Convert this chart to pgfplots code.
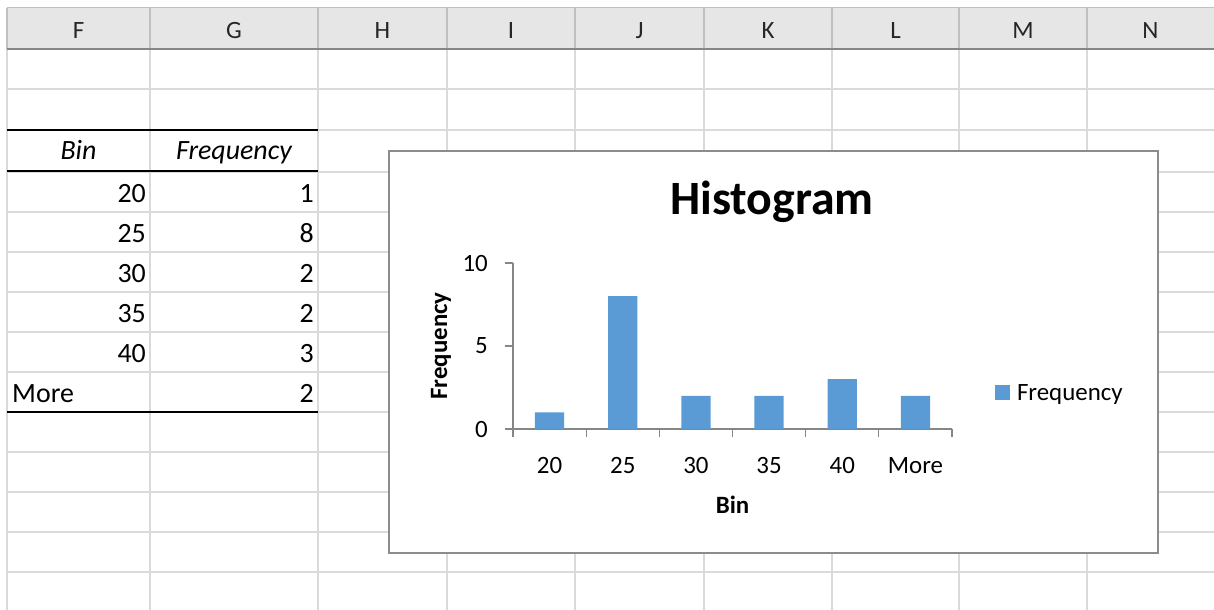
\documentclass[border=0pt]{standalone}
\usepackage{fontspec}
\setmainfont{Carlito}
\usepackage{pgfplots}
\pgfplotsset{compat=1.18}
\definecolor{barblue}{HTML}{5B9BD5}
\definecolor{gridgray}{HTML}{DADADA}
\definecolor{headgray}{HTML}{E6E6E6}
\definecolor{headline}{HTML}{C0C0C0}
\definecolor{axisgray}{HTML}{868686}
\definecolor{framegray}{HTML}{8C8C8C}

\begin{document}
\begin{tikzpicture}[x=1bp,y=1bp]
\fill[white] (0,0) rectangle (1214,-610);
\useasboundingbox (0,0) rectangle (1214,-610);

% sheet: header strip and grid
\fill[headgray] (7,-8) rectangle (1214,-49);
\draw[headline, line width=1pt] (7,-8) -- (1214,-8);
\foreach \x in {7,150,318,447,575,704,832,959,1087} {
  \draw[headline, line width=1.3pt] (\x,-8) -- (\x,-49);
  \draw[gridgray, line width=1.3pt] (\x,-49) -- (\x,-610);
}
\foreach \y in {89,130,172,212,252,292,332,372,412,452,492,532,572}
  \draw[gridgray, line width=1.3pt] (7,-\y) -- (1214,-\y);
\draw[headline!70!black, line width=1.5pt] (7,-49) -- (1214,-49);
\foreach \x/\l in {78.5/F,234/G,382.5/H,511/I,639.5/J,768/K,895.5/L,1023/M,1150.5/N}
  \node[anchor=base, inner sep=0pt, font=\fontsize{25}{30}\selectfont, text=black!85] at (\x,-39) {\l};

% the Bin / Frequency table
\draw[black, line width=3pt] (7,-130) -- (318,-130);
\draw[black, line width=1.5pt] (7,-171) -- (318,-171);
\draw[black, line width=3pt] (7,-412) -- (318,-412);
\node[anchor=base, inner sep=0pt, font=\fontsize{28}{32}\selectfont\itshape] at (78.5,-160) {Bin};
\node[anchor=base, inner sep=0pt, font=\fontsize{28}{32}\selectfont\itshape] at (234,-160) {Frequency};
\foreach \r/\b/\f in {0/20/1,1/25/8,2/30/2,3/35/2,4/40/3} {
  \node[anchor=base east, inner sep=0pt, font=\fontsize{28}{32}\selectfont] at (146,-202.5-40*\r) {\b};
  \node[anchor=base east, inner sep=0pt, font=\fontsize{28}{32}\selectfont] at (314,-202.5-40*\r) {\f};
}
\node[anchor=base west, inner sep=0pt, font=\fontsize{28}{32}\selectfont] at (12,-402.5) {More};
\node[anchor=base east, inner sep=0pt, font=\fontsize{28}{32}\selectfont] at (314,-402.5) {2};

% chart area
\filldraw[fill=white, draw=framegray, line width=1.3pt] (389,-151) rectangle (1158,-553);
\node[anchor=base, inner sep=0pt, font=\fontsize{48}{56}\selectfont\bfseries] at (772,-215) {Histogram};

\begin{axis}[
    at={(513bp,-429bp)}, anchor=south west,
    scale only axis, width=439bp, height=166bp,
    xmin=0, xmax=6, ymin=0, ymax=10,
    axis lines*=left,
    axis line style={axisgray, line width=1.3pt},
    tick style={axisgray, line width=1.3pt},
    tick align=outside,
    major tick length=8bp,
    xtick={0,...,6},
    x tick label as interval,
    xticklabels={20,25,30,35,40,More},
    ytick={0,5,10},
    /pgf/number format/assume math mode=true,
    tick label style={font=\fontsize{25}{30}\selectfont, inner sep=0pt},
    xticklabel shift=20bp,
    yticklabel shift=17bp,
    xlabel={\textbf{Bin}},
    ylabel={\textbf{Frequency}},
    label style={font=\fontsize{25}{30}\selectfont},
    xlabel style={at={(axis description cs:0.5,0)}, anchor=center, yshift=-76bp},
    ylabel style={at={(axis description cs:0,0.5)}, anchor=center, yshift=72bp},
    legend style={at={(1.0975,0.217)}, anchor=west, draw=none, fill=none,
        inner sep=0pt, column sep=7bp,
        font=\fontsize{25}{30}\selectfont,
        nodes={inner sep=0pt}},
]
\addplot[ybar, bar width=29.3bp, fill=barblue, draw=none,
    legend image code/.code={\fill[barblue] (0bp,-7.5bp) rectangle (15bp,7.5bp);}]
    coordinates {(0.5,1) (1.5,8) (2.5,2) (3.5,2) (4.5,3) (5.5,2)};
\addlegendentry{Frequency}
\end{axis}
\end{tikzpicture}
\end{document}
